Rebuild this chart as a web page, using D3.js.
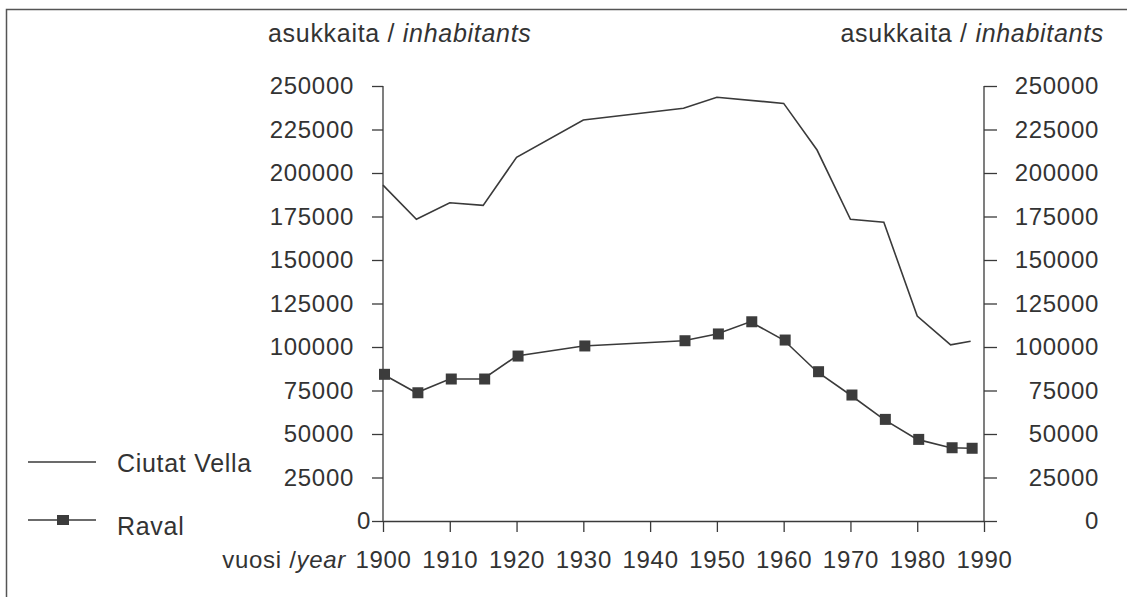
<!DOCTYPE html>
<html>
<head>
<meta charset="utf-8">
<script src="https://cdn.jsdelivr.net/npm/d3@7"></script>
<style>
  body { margin: 0; background: #fff; }
  svg text { font-family: "Liberation Sans", Arial, sans-serif; fill: #333; letter-spacing: 0.7px; }
</style>
</head>
<body>
<div id="chart"></div>
<script>
// population, Ciutat Vella district and Raval neighbourhood (Barcelona)
const cvYears = [1900, 1905, 1910, 1915, 1920, 1930, 1945, 1950, 1960, 1965, 1970, 1975, 1980, 1985, 1988];
const cvValues = [193000, 173400, 182900, 181400, 209000, 230500, 237200, 243500, 240000, 213200, 173400, 171700, 117800, 101200, 103300];

const ravalYears = [1900, 1905, 1910, 1915, 1920, 1930, 1945, 1950, 1955, 1960, 1965, 1970, 1975, 1980, 1985, 1988];
const ravalValues = [84300, 73700, 81600, 81600, 94800, 100600, 103600, 107500, 114500, 104000, 85800, 72400, 58400, 46900, 42100, 41800];

const yTicks = [0, 25000, 50000, 75000, 100000, 125000, 150000, 175000, 200000, 225000, 250000];
const xTicks = [1900, 1910, 1920, 1930, 1940, 1950, 1960, 1970, 1980, 1990];
const seriesNames = ["Ciutat Vella", "Raval"];

const width = 1127, height = 597;
const ink = "#3a3a3a";
const fontSize = 24;

const svg = d3.select("#chart").append("svg")
  .attr("width", width)
  .attr("height", height);

// frame
svg.append("rect")
  .attr("x", 6.5).attr("y", 9.5)
  .attr("width", width + 20).attr("height", height + 20)
  .attr("fill", "none")
  .attr("stroke", "#555")
  .attr("stroke-width", 1.5);

const x = d3.scaleLinear().domain([1900, 1990]).range([383, 984]);
const y = d3.scaleLinear().domain([0, 250000]).range([521, 86]);

function styleAxis(g) {
  g.selectAll("path, line").attr("stroke", ink).attr("stroke-width", 1.3);
  g.selectAll("text")
    .style("font-size", fontSize + "px")
    .attr("fill", "#333");
}

// left axis
const leftAxis = svg.append("g")
  .attr("transform", `translate(${x.range()[0]},0)`)
  .call(d3.axisLeft(y).tickValues(yTicks).tickFormat(d3.format("d"))
    .tickSize(11).tickSizeOuter(0).tickPadding(18))
  .call(styleAxis);
leftAxis.select(".domain").remove();
leftAxis.append("line")
  .attr("y1", y(0)).attr("y2", y(250000))
  .attr("stroke", ink).attr("stroke-width", 1.3);
// the zero label sits right against its tick in the original
leftAxis.selectAll(".tick text").filter(d => d === 0).attr("x", -12);

// right axis
const rightAxis = svg.append("g")
  .attr("transform", `translate(${x.range()[1]},0)`)
  .call(d3.axisRight(y).tickValues(yTicks).tickFormat(d3.format("d"))
    .tickSize(13).tickSizeOuter(0))
  .call(styleAxis);
rightAxis.select(".domain").remove();
rightAxis.append("line")
  .attr("y1", y(0)).attr("y2", y(250000))
  .attr("stroke", ink).attr("stroke-width", 1.3);
rightAxis.selectAll(".tick text")
  .attr("text-anchor", "end")
  .attr("x", 115);

// bottom axis
const bottomAxis = svg.append("g")
  .attr("transform", `translate(0,${y(0)})`)
  .call(d3.axisBottom(x).tickValues(xTicks).tickFormat(d3.format("d"))
    .tickSize(11).tickSizeOuter(0).tickPadding(0))
  .call(styleAxis);
bottomAxis.selectAll(".tick text").attr("dy", null).attr("y", 47);

// axis titles
const leftTitle = svg.append("text")
  .attr("x", 268).attr("y", 42)
  .style("font-size", "25px");
leftTitle.append("tspan").text("asukkaita / ");
leftTitle.append("tspan").style("font-style", "italic").text("inhabitants");

const rightTitle = svg.append("text")
  .attr("x", 1104).attr("y", 42)
  .attr("text-anchor", "end")
  .style("font-size", "25px");
rightTitle.append("tspan").text("asukkaita / ");
rightTitle.append("tspan").style("font-style", "italic").text("inhabitants");

const xTitle = svg.append("text")
  .attr("x", 346).attr("y", 568)
  .attr("text-anchor", "end")
  .style("font-size", fontSize + "px");
xTitle.append("tspan").text("vuosi /");
xTitle.append("tspan").style("font-style", "italic").text("year");

// lines
const line = d3.line()
  .x(d => x(d[0]))
  .y(d => y(d[1]));

const cvData = cvYears.map((yr, i) => [yr, cvValues[i]]);
const ravalData = ravalYears.map((yr, i) => [yr, ravalValues[i]]);

svg.append("path")
  .datum(cvData)
  .attr("d", line)
  .attr("fill", "none")
  .attr("stroke", ink)
  .attr("stroke-width", 1.6);

svg.append("path")
  .datum(ravalData)
  .attr("d", line)
  .attr("fill", "none")
  .attr("stroke", ink)
  .attr("stroke-width", 1.6);

const ms = 11;
svg.append("g")
  .selectAll("rect")
  .data(ravalData)
  .join("rect")
  .attr("x", d => x(d[0]) - ms / 2 + 1.5)
  .attr("y", d => y(d[1]) - ms / 2)
  .attr("width", ms)
  .attr("height", ms)
  .attr("fill", "#3c3c3c");

// legend
const legend = svg.append("g");
const legendRows = [{ name: seriesNames[0], ly: 462, marker: false },
                    { name: seriesNames[1], ly: 520, marker: true }];
legendRows.forEach(r => {
  legend.append("line")
    .attr("x1", 28).attr("x2", 96)
    .attr("y1", r.ly).attr("y2", r.ly)
    .attr("stroke", ink).attr("stroke-width", 1.6);
  if (r.marker) {
    legend.append("rect")
      .attr("x", 57).attr("y", r.ly - 5)
      .attr("width", 12).attr("height", 10)
      .attr("fill", "#3c3c3c");
  }
  legend.append("text")
    .attr("x", 117).attr("y", r.ly + (r.marker ? 15 : 10))
    .style("font-size", "25px")
    .text(r.name);
});
</script>
</body>
</html>
